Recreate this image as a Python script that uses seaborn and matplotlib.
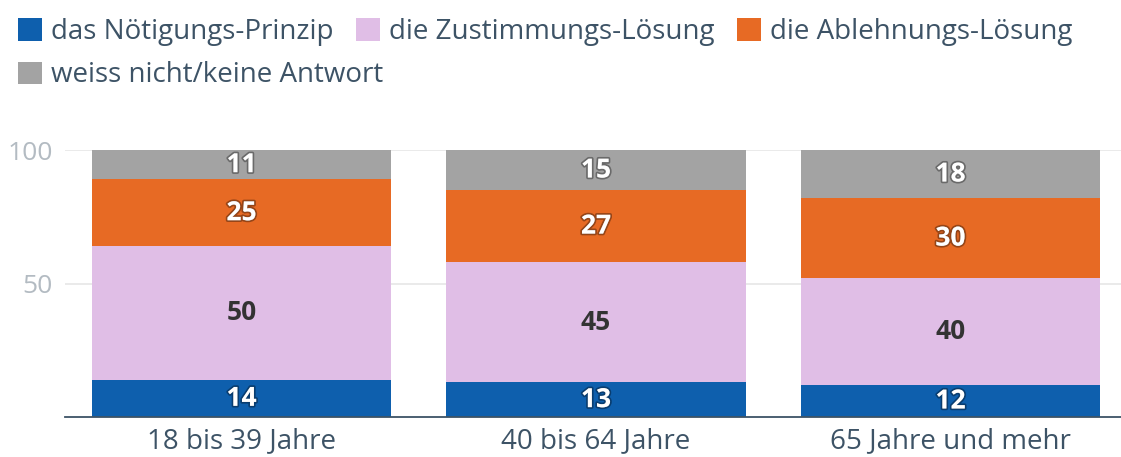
import matplotlib
matplotlib.use("Agg")
import matplotlib.pyplot as plt
import matplotlib.patheffects as pe
import numpy as np
import seaborn as sns

# Data
groups = ["18 bis 39 Jahre", "40 bis 64 Jahre", "65 Jahre und mehr"]
series = ["das Nötigungs-Prinzip", "die Zustimmungs-Lösung",
          "die Ablehnungs-Lösung", "weiss nicht/keine Antwort"]
noetigung = [14, 13, 12]
zustimmung = [50, 45, 40]
ablehnung = [25, 27, 30]
weiss_nicht = [11, 15, 18]
colors = ["#0e5fad", "#e0bee6", "#e76a24", "#a3a3a3"]
label_colors = ["white", "#333333", "white", "white"]

sns.set_style("white")
plt.rcParams["font.family"] = ["Open Sans", "DejaVu Sans"]
text_col = "#3d5366"

fig = plt.figure(figsize=(11.21, 4.57), dpi=100)
ax = fig.add_axes([65 / 1121, 40 / 457, 1056 / 1121, 267 / 457])

values = np.array([noetigung, zustimmung, ablehnung, weiss_nicht], dtype=float)
cum = values.cumsum(axis=0)

# draw stacked bars from the top down so each lower segment covers the rest
handles = [None] * 4
for i in range(3, -1, -1):
    sns.barplot(x=groups, y=cum[i], color=colors[i], saturation=1,
                width=0.846, linewidth=0, ax=ax, zorder=2)
    handles[i] = plt.Rectangle((0, 0), 1, 1, color=colors[i], linewidth=0)

# segment labels
for i in range(4):
    bottoms = cum[i] - values[i]
    for j in range(len(groups)):
        effects = []
        if label_colors[i] == "white":
            effects = [pe.withStroke(linewidth=2.5, foreground=(0, 0, 0, 0.35))]
        ax.text(j, bottoms[j] + values[i][j] / 2, f"{int(values[i][j])}",
                ha="center", va="center", fontsize=19, fontweight="bold",
                color=label_colors[i], path_effects=effects, zorder=5)

ax.set_xlim(-0.498, 2.481)
ax.set_ylim(0, 100)
ax.set_yticks([50, 100])
ax.set_yticklabels(["50", "100"])
ax.yaxis.grid(True, color="#e6e6e6", linewidth=1.2, zorder=0)
ax.set_axisbelow(True)
for s in ["top", "right", "left"]:
    ax.spines[s].set_visible(False)
ax.spines["bottom"].set_color(text_col)
ax.spines["bottom"].set_linewidth(1.3)
ax.spines["bottom"].set_zorder(6)
ax.tick_params(axis="y", length=0, pad=9, labelsize=19, labelcolor="#b3bbc2")
ax.tick_params(axis="x", length=0, pad=7, labelsize=20, labelcolor=text_col)
ax.set_xlabel("")
ax.set_ylabel("")

# legend: three entries on the first row, one on the second
leg1 = fig.legend(handles[:3], series[:3], loc="upper left",
                  bbox_to_anchor=(0.0, 1.0), ncol=3, frameon=False,
                  fontsize=20, handlelength=0.85, handleheight=0.85,
                  handletextpad=0.35, columnspacing=0.8, borderaxespad=0.25)
leg2 = fig.legend(handles[3:], series[3:], loc="upper left",
                  bbox_to_anchor=(0.0, 0.905), ncol=1, frameon=False,
                  fontsize=20, handlelength=0.85, handleheight=0.85,
                  handletextpad=0.35, borderaxespad=0.25)
for leg in (leg1, leg2):
    for t in leg.get_texts():
        t.set_color(text_col)

fig.savefig("out.png", dpi=100)
